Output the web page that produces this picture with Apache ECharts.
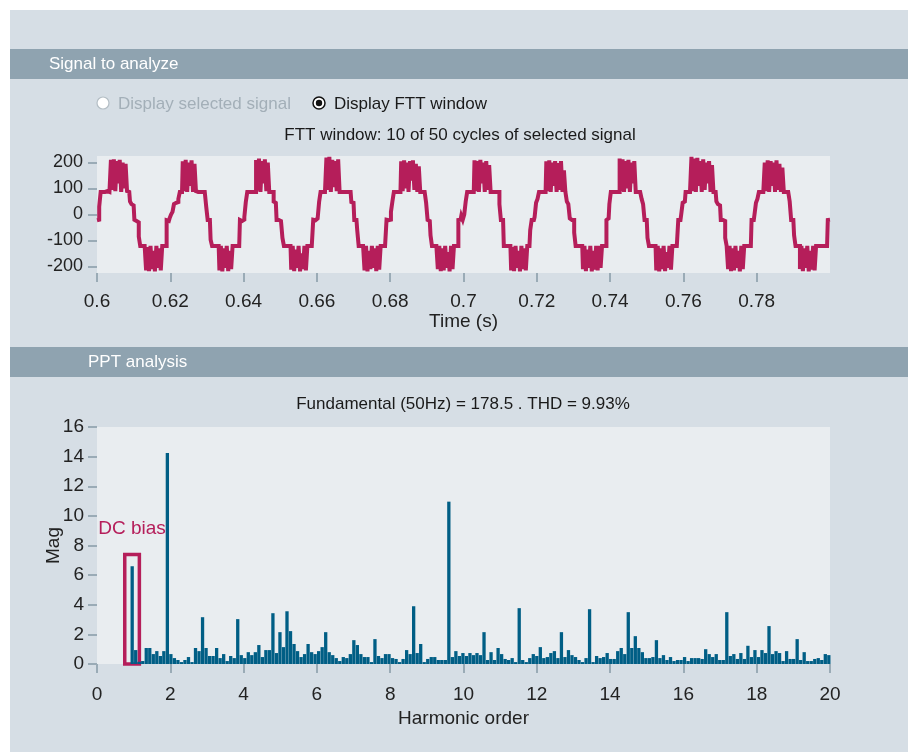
<!DOCTYPE html>
<html><head><meta charset="utf-8">
<script src="https://cdn.jsdelivr.net/npm/echarts@6/dist/echarts.min.js"></script>
<style>html,body{margin:0;padding:0;background:#fff;}#c{width:914px;height:752px;}</style>
</head><body><div id="c"></div>
<script>
// ---- Signal (FTT window), one array per 20 ms cycle, sampled every 0.4 ms ----
const sampleStart = 0.6;
const sampleStep = 0.0004;
const cycle1 = [-22,-20,30,87,87,87,87,90,87,88, 210,95,212,90,205,120,210,87,200,100, 195,90,87,50,40,35,-20,-25,-30,-85, -121,-121,-121,-121,-215,-125,-218,-121,-210,-140, -219,-121,-205,-130,-215,-121,-121,-121,-22,-25];
const cycle2 = [-15,0,10,40,45,48,60,87,87,205, 90,210,87,200,110,208,87,195,90,87, 87,87,87,87,87,30,-21,-21,-97,-121, -121,-121,-121,-121,-215,-121,-219,-130,-205,-121, -218,-140,-210,-121,-121,-121,-121,-121,-21,-25];
const cycle3 = [-20,-10,48,87,87,87,90,87,87,210, 92,215,87,205,120,212,90,200,87,87, 87,50,45,-21,-21,-25,-21,-90,-121,-121, -121,-121,-121,-212,-121,-218,-135,-205,-121,-219, -150,-210,-121,-215,-121,-121,-121,-121,-20,-22];
const cycle4 = [-15,-10,48,87,87,87,87,219,95,222, 87,210,105,205,90,212,87,87,87,87, 87,87,87,87,48,45,-21,-21,-60,-121, -121,-121,-121,-215,-121,-219,-140,-210,-121,-205, -130,-218,-121,-212,-121,-121,-121,-121,-20,-22];
const cycle5 = [-20,10,50,87,87,87,87,87,205,90, 208,100,200,87,205,130,208,95,195,87, 185,87,87,87,87,45,-21,-25,-80,-121, -121,-121,-121,-210,-121,-218,-130,-215,-121,-205, -145,-219,-121,-210,-121,-121,-121,-21,-20,-5];
const cycle6 = [-20,0,50,87,87,87,87,87,208,90, 205,87,210,120,200,87,205,95,190,87, 87,87,87,87,87,40,-21,-21,-121,-121, -121,-121,-121,-215,-125,-218,-121,-205,-140,-219, -121,-210,-130,-215,-121,-121,-60,-21,-21,-10];
const cycle7 = [45,60,87,87,87,87,87,205,90,208, 87,200,110,205,87,198,95,205,87,170, 87,50,40,-15,-21,-21,-70,-121,-121,-121, -121,-121,-210,-121,-218,-135,-205,-121,-219,-140, -212,-121,-215,-121,-205,-121,-121,-121,-21,-15];
const cycle8 = [40,87,87,87,87,87,87,215,90,212, 87,205,100,210,87,200,120,205,87,87, 87,87,60,40,-21,-21,-90,-121,-121,-121, -121,-121,-215,-121,-219,-130,-210,-121,-218,-145, -205,-121,-212,-121,-121,-121,-121,-21,-21,0];
const cycle9 = [45,50,87,87,87,87,222,90,215,87, 218,110,205,87,212,95,200,120,205,87, 190,87,87,50,40,35,-21,-21,-25,-90, -121,-210,-121,-218,-130,-215,-121,-205,-140,-219, -121,-210,-121,-121,-121,-121,-121,-21,-21,0];
const cycle10 = [45,60,87,87,87,87,200,90,208,87, 205,110,200,87,208,95,195,87,180,87, 87,87,87,50,-21,-21,-80,-121,-121,-121, -210,-121,-218,-130,-205,-121,-219,-140,-212,-121, -215,-121,-121,-121,-121,-121,-121,-121,-121,-21];
const signalEnd = [-20];
const signalYTicks = [-200, -100, 0, 100, 200];

// ---- Harmonic spectrum: one value per bin, bins every 0.096 harmonic order ----
const binStep = 0.096;
const firstBin = 10;
const harmonicMag = [
 6.6,0.94,0.15,0.2,1.08,1.08,0.67,0.87,0.54,0.87,
 14.25,0.67,0.4,0.27,0.13,0.27,0.47,0.13,1.08,0.87,
 3.16,1.08,0.54,0.54,1.08,0.4,0.67,0.2,0.54,0.4,
 3.03,0.6,0.4,0.8,0.6,0.8,1.28,0.47,0.94,0.94,
 3.43,0.74,2.15,1.14,3.56,2.22,1.35,0.87,0.47,0.67,
 1.35,0.8,0.67,0.87,1.14,2.15,0.8,0.6,0.4,0.2,
 0.47,0.4,0.67,1.61,1.28,0.67,0.47,0.47,0.13,1.68,
 0.54,0.4,0.67,0.67,0.4,0.34,0.13,0.34,0.94,0.67,
 3.9,0.74,1.35,0.13,0.34,0.47,0.47,0.27,0.27,0.27,
 10.96,0.47,0.87,0.54,0.74,0.54,0.74,0.6,0.74,0.6,
 2.15,0.27,0.8,0.27,1.08,0.67,0.34,0.27,0.4,0.13,
 3.77,0.27,0.13,0.4,0.67,0.54,1.14,0.4,0.47,0.74,
 0.87,0.4,2.15,0.47,0.94,0.6,0.47,0.27,0.13,0.4,
 3.7,0.13,0.54,0.4,0.47,0.74,0.34,0.34,0.87,1.08,
 0.67,3.5,1.08,1.88,1.08,0.8,0.4,0.4,0.47,1.61,
 0.4,0.6,0.27,0.47,0.2,0.27,0.27,0.47,0.2,0.4,
 0.4,0.4,0.34,1.0,0.67,0.47,0.67,0.27,0.27,3.5,
 0.54,0.67,0.34,0.74,0.34,1.23,0.47,0.94,0.47,0.94,
 0.74,2.56,0.67,0.87,0.74,0.2,0.87,0.34,0.34,1.68,
 0.27,0.8,0.2,0.2,0.34,0.4,0.27,0.67,0.6
];
// DC-bias annotation box, in data units (harmonic order, magnitude)
const dcBoxFrom = [0.757, 0];
const dcBoxTo = [1.156, 7.4];

const FONT = 'Liberation Sans, Arial, sans-serif';
const signalValues = [].concat(cycle1,cycle2,cycle3,cycle4,cycle5,cycle6,cycle7,cycle8,cycle9,cycle10,signalEnd);
const signalData = signalValues.map((v,i)=>[+(sampleStart + i*sampleStep).toFixed(5), v]);
const barData = harmonicMag.map((v,i)=>[+((firstBin+i)*binStep).toFixed(4), v]);

const tickStyle = {show:true, length:9, lineStyle:{color:'#9aabb6', width:2}};
const noLine = {show:false, onZero:false};
const chart = echarts.init(document.getElementById('c'), null, {renderer:'canvas'});
chart.setOption({
  animation:false,
  backgroundColor:'#d6dee5',
  graphic:[
    {type:'rect', shape:{x:0,y:0,width:914,height:10}, style:{fill:'#ffffff'}},
    {type:'rect', shape:{x:0,y:0,width:10,height:752}, style:{fill:'#ffffff'}},
    {type:'rect', shape:{x:908,y:0,width:6,height:752}, style:{fill:'#ffffff'}},
    {type:'rect', shape:{x:10,y:49,width:898,height:30}, style:{fill:'#8fa3b0'}},
    {type:'rect', shape:{x:10,y:347,width:898,height:30}, style:{fill:'#8fa3b0'}},
    {type:'text', x:49, y:64.5, style:{text:'Signal to analyze', fill:'#ffffff', font:'17px '+FONT, verticalAlign:'middle'}},
    {type:'text', x:88, y:362.5, style:{text:'PPT analysis', fill:'#ffffff', font:'17px '+FONT, verticalAlign:'middle'}},
    {type:'circle', shape:{cx:103,cy:103,r:6}, style:{fill:'#ffffff', stroke:'#b4bec5', lineWidth:1.2}},
    {type:'text', x:118, y:104, style:{text:'Display selected signal', fill:'#a3afb8', font:'17px '+FONT, verticalAlign:'middle'}},
    {type:'circle', shape:{cx:319,cy:103,r:6}, style:{fill:'#ffffff', stroke:'#111111', lineWidth:1.5}},
    {type:'circle', shape:{cx:319,cy:103,r:3.2}, style:{fill:'#111111'}},
    {type:'text', x:334, y:104, style:{text:'Display FTT window', fill:'#1a1a1a', font:'17px '+FONT, verticalAlign:'middle'}},
    {type:'text', x:460, y:135.5, style:{text:'FTT window: 10 of 50 cycles of selected signal', fill:'#1a1a1a', font:'17px '+FONT, align:'center', verticalAlign:'middle'}},
    {type:'text', x:463, y:404.5, style:{text:'Fundamental (50Hz) = 178.5 . THD = 9.93%', fill:'#1a1a1a', font:'17px '+FONT, align:'center', verticalAlign:'middle'}}
  ],
  grid:[
    {left:97, right:84, top:156, height:117, show:true, backgroundColor:'#e9edf0', borderWidth:0},
    {left:97, right:84, top:427, height:237, show:true, backgroundColor:'#e9edf0', borderWidth:0}
  ],
  xAxis:[
    {type:'value', gridIndex:0, min:0.6, max:0.8, interval:0.02, position:'bottom',
     axisLine:noLine, axisTick:tickStyle, splitLine:{show:false},
     axisLabel:{fontSize:19, color:'#222', margin:19, showMaxLabel:false, fontFamily:FONT},
     name:'Time (s)', nameLocation:'middle', nameGap:39, nameMoveOverlap:false, nameTextStyle:{fontSize:19, color:'#222', fontFamily:FONT}},
    {type:'value', gridIndex:1, min:0, max:20, interval:2, position:'bottom',
     axisLine:noLine, axisTick:tickStyle, splitLine:{show:false},
     axisLabel:{fontSize:19, color:'#222', margin:21, fontFamily:FONT},
     name:'Harmonic order', nameLocation:'middle', nameGap:45, nameMoveOverlap:false, nameTextStyle:{fontSize:19, color:'#222', fontFamily:FONT}}
  ],
  yAxis:[
    {type:'value', gridIndex:0, min:-225, max:225, position:'left',
     axisLine:noLine, splitLine:{show:false},
     axisTick:Object.assign({customValues:signalYTicks}, tickStyle),
     axisLabel:{customValues:signalYTicks, fontSize:18, color:'#222', margin:14, fontFamily:FONT}},
    {type:'value', gridIndex:1, min:0, max:16, interval:2, position:'left',
     axisLine:noLine, splitLine:{show:false}, axisTick:tickStyle,
     axisLabel:{fontSize:19, color:'#222', margin:13, fontFamily:FONT},
     name:'Mag', nameLocation:'middle', nameRotate:90, nameGap:34, nameMoveOverlap:false, nameTextStyle:{fontSize:19, color:'#222', fontFamily:FONT}}
  ],
  series:[
    {type:'line', xAxisIndex:0, yAxisIndex:0, data:signalData, showSymbol:false, symbol:'none', step:'middle',
     lineStyle:{color:'#b51e5a', width:4, join:'miter'}, silent:true},
    {type:'bar', xAxisIndex:1, yAxisIndex:1, data:barData, barWidth:3.3, clip:false,
     itemStyle:{color:'#005e85'}, silent:true,
     markArea:{silent:true,
       itemStyle:{color:'rgba(0,0,0,0)', borderColor:'#b51e5a', borderWidth:3.5},
       label:{show:true, position:'top', distance:14, color:'#b51e5a', fontSize:19, fontFamily:FONT},
       data:[[{name:'DC bias', coord:dcBoxFrom}, {coord:dcBoxTo}]]}}
  ]
});
</script></body></html>
